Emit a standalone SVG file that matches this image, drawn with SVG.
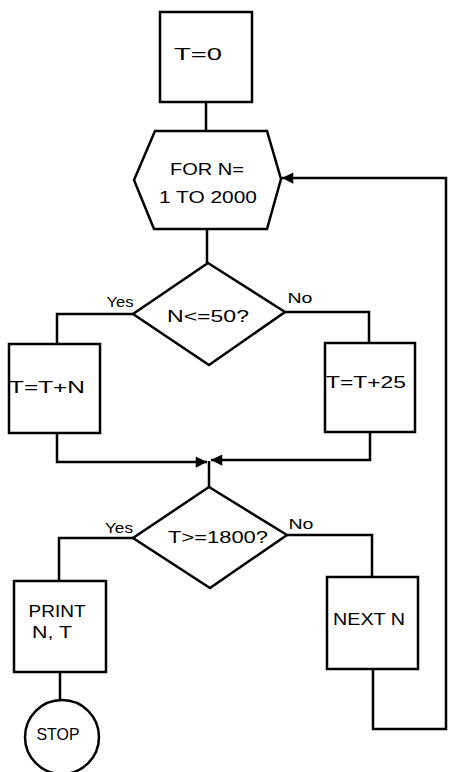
<svg xmlns="http://www.w3.org/2000/svg" width="451" height="772" viewBox="0 0 451 772">
<style>
.s{fill:#fff;stroke:#000;stroke-width:2.5;stroke-linejoin:miter}
.c{fill:none;stroke:#000;stroke-width:2.5}
text{font-family:"Liberation Sans","DejaVu Sans",sans-serif;font-size:17px;fill:#000;text-anchor:middle}
.l{font-size:15px}
</style>
<defs>
<marker id="ah" viewBox="0 0 10 10" refX="10" refY="5" markerWidth="6" markerHeight="4.5" orient="auto" markerUnits="strokeWidth">
<path d="M0,0 L10,5 L0,10 z" fill="#000"/>
</marker>
</defs>
<g id="connectors">
<path class="c" d="M206,102 V131"/>
<path class="c" d="M207,229 V263"/>
<path class="c" d="M133,314 H57 V344"/>
<path class="c" d="M285,312 H369 V343"/>
<path class="c" d="M57,433 V462 H207" marker-end="url(#ah)"/>
<path class="c" d="M370,432 V460 H211" marker-end="url(#ah)"/>
<path class="c" d="M209,461 V487"/>
<path class="c" d="M133,538 H59 V581"/>
<path class="c" d="M287,535 H372 V577"/>
<path class="c" d="M60,672 V700"/>
<path class="c" d="M373,669 V729 H446 V178 H282" marker-end="url(#ah)"/>
<text class="l" x="120" y="307" textLength="27" lengthAdjust="spacingAndGlyphs">Yes</text>
<text class="l" x="300" y="303" textLength="25" lengthAdjust="spacingAndGlyphs">No</text>
<text class="l" x="119" y="533" textLength="28" lengthAdjust="spacingAndGlyphs">Yes</text>
<text class="l" x="301" y="529" textLength="25" lengthAdjust="spacingAndGlyphs">No</text>
</g>
<g id="start">
<rect class="s" x="160" y="12" width="92" height="90"/>
<text x="198" y="60" textLength="48" lengthAdjust="spacingAndGlyphs">T=0</text>
</g>
<g id="loop">
<polygon class="s" points="155,131 267,131 281,179 267,229 154,229 134,180"/>
<text x="207" y="175" textLength="74" lengthAdjust="spacingAndGlyphs">FOR N=</text>
<text x="208" y="203" textLength="98" lengthAdjust="spacingAndGlyphs">1 TO 2000</text>
</g>
<g id="dec1">
<polygon class="s" points="208,263 285,312 209,365 133,314"/>
<text x="208" y="322" font-size="18" textLength="82" lengthAdjust="spacingAndGlyphs">N&lt;=50?</text>
</g>
<g id="addN">
<rect class="s" x="9" y="344" width="91" height="89"/>
<text x="47" y="393" textLength="76" lengthAdjust="spacingAndGlyphs">T=T+N</text>
</g>
<g id="add25">
<rect class="s" x="325" y="343" width="90" height="89"/>
<text x="366" y="388" textLength="80" lengthAdjust="spacingAndGlyphs">T=T+25</text>
</g>
<g id="dec2">
<polygon class="s" points="209,487 287,535 210,588 133,538"/>
<text x="218" y="543" textLength="100" lengthAdjust="spacingAndGlyphs">T&gt;=1800?</text>
</g>
<g id="print">
<rect class="s" x="14" y="581" width="92" height="91"/>
<text x="57" y="617" font-size="16" textLength="57" lengthAdjust="spacingAndGlyphs">PRINT</text>
<text x="52" y="638" font-size="16" textLength="40" lengthAdjust="spacingAndGlyphs">N, T</text>
</g>
<g id="next">
<rect class="s" x="327" y="577" width="91" height="92"/>
<text x="369" y="625" font-size="16" textLength="72" lengthAdjust="spacingAndGlyphs">NEXT N</text>
</g>
<g id="stop">
<circle class="s" cx="62" cy="737" r="37"/>
<text x="58" y="740" font-size="13" textLength="43" lengthAdjust="spacingAndGlyphs">STOP</text>
</g>
</svg>
